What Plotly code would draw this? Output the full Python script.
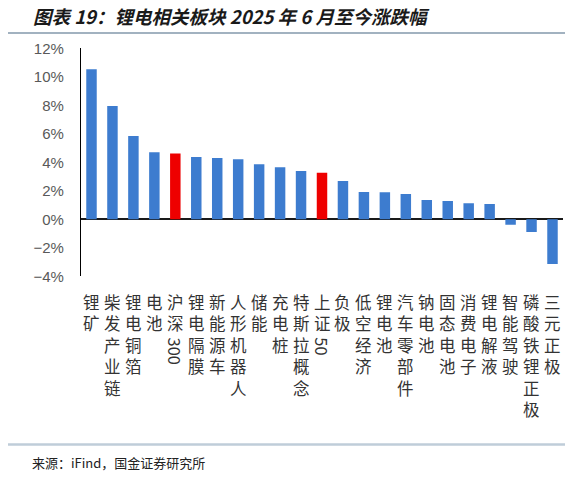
import plotly.graph_objects as go

# 锂电相关板块 2025年6月至今涨跌幅 (%)
categories = [
    "锂矿", "柴发产业链", "锂电铜箔", "电池", "沪深300", "锂电隔膜", "新能源车",
    "人形机器人", "储能", "充电桩", "特斯拉概念", "上证50", "负极", "低空经济",
    "锂电池", "汽车零部件", "钠电池", "固态电池", "消费电子", "锂电解液",
    "智能驾驶", "磷酸铁锂正极", "三元正极",
]
changes = [
    10.53, 7.96, 5.85, 4.71, 4.63, 4.37, 4.30, 4.21, 3.86, 3.65, 3.39, 3.27,
    2.69, 1.92, 1.90, 1.78, 1.35, 1.28, 1.12, 1.07, -0.38, -0.89, -3.14,
]
benchmarks = ["沪深300", "上证50"]
y_ticks = [-4, -2, 0, 2, 4, 6, 8, 10, 12]
y_ticktext = ["\u2212" + f"{-v}%" if v < 0 else f"{v}%" for v in y_ticks]

BLUE = "#3d7ccf"
RED = "#ee0000"

# page body has an 8px margin, so the figure is 16px smaller than the window
OFF = 8
W, H = 573 - 2 * OFF, 486 - 2 * OFF


def px_x(px):
    # window pixel -> paper fraction (margins are zero, paper = whole figure)
    return (px - OFF) / W


def px_y(py):
    return 1 - (py - OFF) / H


# plot area in window pixels
X_DOM = [px_x(81), px_x(563)]
Y_DOM = [px_y(276.3), px_y(48.4)]

colors = [RED if c in benchmarks else BLUE for c in categories]

fig = go.Figure()
fig.add_trace(go.Bar(
    x=categories, y=changes, marker_color=colors,
    marker_line_width=0, hoverinfo="x+y",
))

# rule under the title, drawn on a small hidden overlay axis pair
fig.add_trace(go.Scatter(
    x=[0, 1], y=[0.5, 0.5], mode="lines", xaxis="x2", yaxis="y2",
    line=dict(color="#8399ab", width=1.6), hoverinfo="skip",
))

# vertical category labels: CJK characters stacked, trailing digits rotated
lab_font = dict(family="Noto Sans CJK SC", size=16.5, color="#333333")
for cat in categories:
    head = cat.rstrip("0123456789")
    tail = cat[len(head):]
    fig.add_annotation(
        x=cat, xref="x", y=Y_DOM[0], yref="paper", yanchor="top", yshift=-12,
        text="<br>".join(head), showarrow=False, font=lab_font, align="center",
    )
    if tail:
        fig.add_annotation(
            x=cat, xref="x", y=Y_DOM[0], yref="paper", yanchor="top",
            yshift=-12 - 21.5 * len(head) - 4,
            text=tail, textangle=90, showarrow=False, font=lab_font,
        )

fig.add_annotation(
    x=px_x(30), y=px_y(462), xref="paper", yref="paper",
    xanchor="left", yanchor="middle", showarrow=False,
    text="来源：iFind，国金证券研究所",
    font=dict(family="Noto Sans CJK SC", size=13, color="#222222"),
)

fig.add_annotation(
    x=px_x(31), y=px_y(16), xref="paper", yref="paper",
    xanchor="left", yanchor="middle", showarrow=False,
    text="<b><i>图表 19：锂电相关板块 2025 年 6 月至今涨跌幅</i></b>",
    font=dict(family="Noto Sans CJK SC", size=18.5, color="#1a1a1a"),
)

# rule above the source note
fig.add_shape(type="line", xref="paper", yref="paper",
              x0=px_x(8), x1=px_x(565), y0=px_y(444.5), y1=px_y(444.5),
              line=dict(color="#bfcdd9", width=2.5))

fig.update_layout(
    width=W, height=H,
    margin=dict(l=0, r=0, t=0, b=0),
    paper_bgcolor="white", plot_bgcolor="rgba(0,0,0,0)",
    showlegend=False,
    bargap=0.5,
    xaxis=dict(domain=X_DOM, showticklabels=False, showline=False,
               showgrid=False, ticks="", fixedrange=True, automargin=False),
    yaxis=dict(
        domain=Y_DOM, automargin=False,
        range=[-4, 12], tickvals=y_ticks, ticktext=y_ticktext,
        showgrid=False, showline=True, linecolor="#000000", linewidth=1.3,
        zeroline=True, zerolinecolor="#1a1a1a", zerolinewidth=1.6,
        ticks="outside", ticklen=13, tickcolor="rgba(0,0,0,0)",
        tickfont=dict(family="Liberation Sans", size=15, color="#595959"),
    ),
    xaxis2=dict(domain=[px_x(8), px_x(565)], range=[0, 1], visible=False,
                anchor="y2", fixedrange=True),
    yaxis2=dict(domain=[px_y(37), px_y(29)], range=[0, 1], visible=False,
                anchor="x2", fixedrange=True),
)

fig.write_html("out.html")
